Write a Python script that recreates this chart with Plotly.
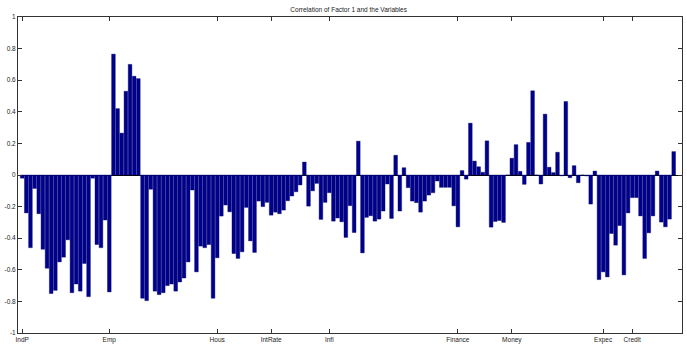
import plotly.graph_objects as go

values = [
    -0.02, -0.24, -0.46, -0.085, -0.245, -0.47, -0.59, -0.75, -0.73, -0.55,
    -0.52, -0.41, -0.745, -0.69, -0.735, -0.56, -0.77, -0.02, -0.44, -0.46,
    -0.285, -0.74, 0.765, 0.42, 0.265, 0.53, 0.70, 0.625, 0.61, -0.78,
    -0.795, -0.09, -0.735, -0.757, -0.745, -0.70, -0.69, -0.735, -0.677, -0.652,
    -0.55, -0.095, -0.613, -0.45, -0.46, -0.44, -0.78, -0.524, -0.26, -0.19,
    -0.233, -0.497, -0.528, -0.486, -0.205, -0.417, -0.49, -0.165, -0.2, -0.173,
    -0.254, -0.235, -0.245, -0.222, -0.163, -0.133, -0.106, -0.063, 0.082, -0.197,
    -0.1, -0.053, -0.281, -0.173, -0.112, -0.292, -0.272, -0.296, -0.395, -0.194,
    -0.364, 0.214, -0.493, -0.268, -0.258, -0.292, -0.279, -0.228, -0.057, -0.275,
    0.125, -0.228, 0.046, -0.08, -0.165, -0.175, -0.235, -0.165, -0.127, -0.112,
    -0.038, -0.078, -0.078, -0.078, -0.195, -0.328, 0.028, -0.026, 0.328, 0.088,
    0.052, 0.017, 0.216, -0.33, -0.294, -0.288, -0.3, 0.0, 0.106, 0.192,
    0.023, -0.059, 0.206, 0.533, 0.0, -0.057, 0.385, 0.049, 0.015, 0.144,
    -0.005, 0.465, -0.017, 0.059, -0.049, 0.0, -0.006, -0.184, 0.025, -0.662,
    -0.613, -0.645, -0.37, -0.444, -0.32, -0.632, -0.24, -0.143, -0.143, -0.259,
    -0.528, -0.366, -0.259, 0.025, -0.298, -0.328, -0.279, 0.148,
]
indices = list(range(1, len(values) + 1))

group_positions = [1, 22, 48, 61, 75, 106, 119, 141, 148]
group_labels = ["IndP", "Emp", "Hous", "IntRate", "Infl", "Finance", "Money", "Expec", "Credit"]

y_ticks = [-1, -0.8, -0.6, -0.4, -0.2, 0, 0.2, 0.4, 0.6, 0.8, 1]
y_tick_labels = ["-1", "-0.8", "-0.6", "-0.4", "-0.2", "0", "0.2", "0.4", "0.6", "0.8", "1"]

title_text = "Correlation of Factor 1 and the Variables"

fig = go.Figure(
    go.Bar(
        x=indices,
        y=values,
        marker=dict(color="#00008F", line=dict(width=0.4, color="#000060")),
        showlegend=False,
    )
)

font = dict(family="Liberation Sans, Arial, sans-serif", size=6.5, color="#222222")

fig.update_layout(
    width=687,
    height=362,
    autosize=False,
    margin=dict(l=15, r=4, t=17, b=29, pad=0),
    paper_bgcolor="white",
    plot_bgcolor="white",
    bargap=0.12,
    font=font,
    title=dict(text=title_text, x=0.5075, xanchor="center", y=0.972, yanchor="middle",
               font=dict(family="Liberation Sans, Arial, sans-serif", size=6.5, color="#222222")),
)

fig.update_xaxes(
    range=[0, 160],
    tickmode="array",
    tickvals=group_positions,
    ticktext=group_labels,
    ticks="inside",
    ticklen=4,
    tickcolor="#333333",
    showline=True,
    linecolor="#333333",
    linewidth=1,
    mirror="ticks",
    showgrid=False,
    zeroline=False,
    tickfont=font,
)
fig.update_yaxes(
    range=[-1, 1],
    tickmode="array",
    tickvals=y_ticks,
    ticktext=y_tick_labels,
    ticks="inside",
    ticklen=4,
    tickcolor="#333333",
    showline=True,
    linecolor="#333333",
    linewidth=1,
    mirror="ticks",
    showgrid=False,
    zeroline=True,
    zerolinecolor="black",
    zerolinewidth=1,
    tickfont=font,
)

fig.write_html("out.html")
